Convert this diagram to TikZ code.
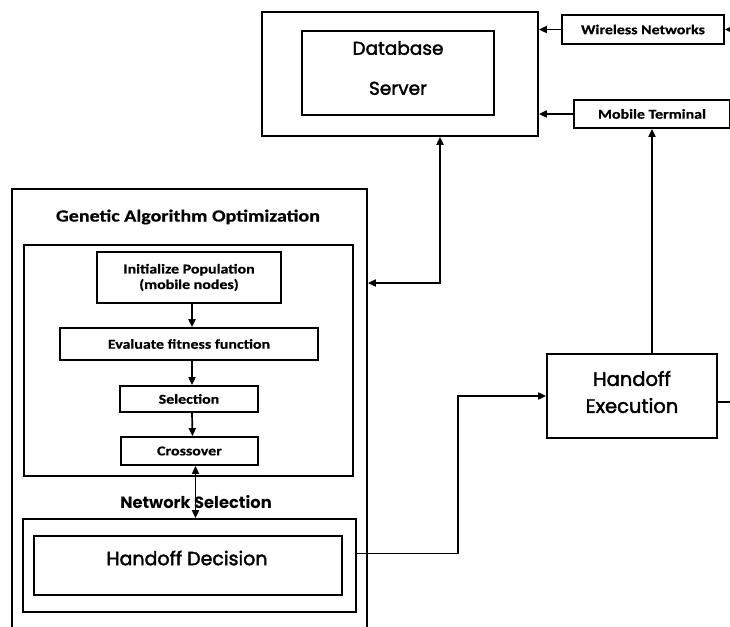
\documentclass[tikz,border=0pt]{standalone}
\usepackage{fontspec}
\setmainfont{Carlito}
\newfontfamily\calw[FakeStretch=1.18,FakeBold=0.6]{Carlito}
\newfontfamily\geo{Poppins}
\newfontfamily\geomed[FakeBold=2]{Poppins}
\usetikzlibrary{arrows.meta}

\tikzset{
  box/.style={draw=black, line width=1.7pt, rectangle, inner sep=0pt, fill=none},
  small/.style={font=\calw\bfseries\fontsize{13.5}{15.5}\selectfont, align=center},
  big/.style={font=\geomed\fontsize{18.5}{22}\selectfont, align=center},
  link/.style={draw=black, line width=1.7pt},
  arr/.style={link, -{Triangle[length=8pt,width=7pt]}},
  arrtwo/.style={link, {Triangle[length=8pt,width=7pt]}-{Triangle[length=8pt,width=7pt]}}
}

\begin{document}
\begin{tikzpicture}[x=1pt, y=-1pt]
\clip (0,0) rectangle (730,626);
\fill[white] (0,0) rectangle (730,626);

% database server
\node[box, minimum width=276pt, minimum height=124pt] (dbouter) at (400,74) {};
\node[box, minimum width=192pt, minimum height=84pt] (dbinner) at (398,73) {};
\node[big] (dbtext) at (398,68) {Database\\[18pt]Server};

% external inputs
\node[box, small, minimum width=162pt, minimum height=29pt] (wn) at (643,29.5) {Wireless Networks};
\node[box, small, minimum width=156pt, minimum height=28pt] (mt) at (652,114) {Mobile Terminal};
\coordinate (wnfeed) at (745,29.5);
\draw[arr] (wnfeed) -- (wn.east);
\draw[arr] (wn.west) -- (wn.west -| dbouter.east);
\draw[arr] (mt.west) -- (mt.west -| dbouter.east);

% handoff execution
\node[box, minimum width=170pt, minimum height=84pt] (he) at (632,396) {};
\node[big, font=\geomed\fontsize{19.5}{22}\selectfont] (hetext) at (632,392)
  {Handoff\\[5pt]Execution};
\draw[arr] (mt.south |- he.north) -- (mt.south);
\coordinate (heout) at (745,402);
\draw[link] ([yshift=-6pt]he.east) -- (heout);

% genetic algorithm block
\node[box, minimum width=355pt, minimum height=460pt] (gaouter) at (189.5,419) {};
\node[font=\calw\bfseries\fontsize{17}{19}\selectfont] (gatitle) at (188,217) {Genetic Algorithm Optimization};
\node[box, minimum width=329pt, minimum height=231pt] (gainner) at (188.5,360.5) {};

\node[box, small, minimum width=184pt, minimum height=51pt] (init) at (189,277.5)
  {Initialize Population\\(mobile nodes)};
\node[box, small, minimum width=258pt, minimum height=32pt] (eval) at (189,344) {Evaluate fitness function};
\node[box, small, minimum width=138pt, minimum height=26pt] (sel) at (189,399) {Selection};
\node[box, small, minimum width=137pt, minimum height=28pt] (cross) at (189.5,451) {Crossover};

\draw[arr] ([xshift=3pt]init.south) -- ([xshift=3pt]eval.north);
\draw[arr] ([xshift=3pt]eval.south) -- ([xshift=3pt]sel.north);
\draw[arr] ([xshift=3pt]sel.south) -- ([xshift=3pt]cross.north);

% handoff decision
\node[box, minimum width=333pt, minimum height=93pt] (hdouter) at (189.5,565.5) {};
\node[box, minimum width=308pt, minimum height=59pt] (hdinner) at (188,565.5) {};
\node[big, font=\geomed\fontsize{19}{22}\selectfont] (hdtext) at (187,558) {Handoff Decision};

\node[font=\geo\bfseries\fontsize{16.3}{19}\selectfont] (netsel) at (196,502) {Network Selection};
\draw[arrtwo] ([xshift=6pt]cross.south) -- ([xshift=6pt]cross.south |- hdouter.north);

% links between blocks
\draw[arr] ([yshift=12pt]hdouter.east) -- ++(101,0) |- (he.west);
\coordinate (dbga) at (440,283);
\draw[arrtwo] (dbouter.south -| dbga) -- (dbga) -- (dbga -| gaouter.east);
\end{tikzpicture}
\end{document}
